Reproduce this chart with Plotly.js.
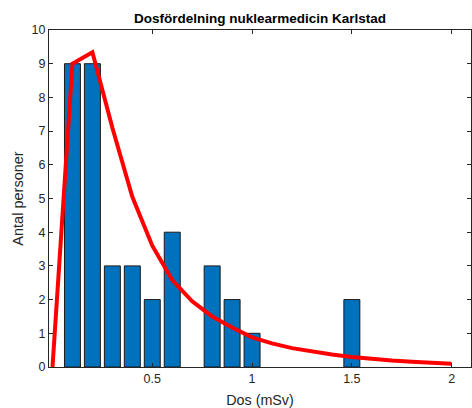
<!DOCTYPE html>
<html>
<head>
<meta charset="utf-8">
<script src="https://cdn.plot.ly/plotly-3.0.1.min.js"></script>
<style>html,body{margin:0;padding:0;background:#fff;}#chart{width:472px;height:408px;}</style>
</head>
<body>
<div id="chart"></div>
<script>
// Histogram bars
const barDose = [0.1, 0.2, 0.3, 0.4, 0.5, 0.6, 0.8, 0.9, 1.0, 1.5];
const barCount = [9, 9, 3, 3, 2, 4, 3, 2, 1, 2];
// Fitted curve
const fitDose = [0, 0.1, 0.2, 0.3, 0.4, 0.5, 0.6, 0.7, 0.8, 0.9, 1.0, 1.1, 1.2, 1.3, 1.4, 1.5, 1.6, 1.7, 1.8, 1.9, 2.0];
const fitCount = [0, 9.0, 9.34, 7.1, 5.05, 3.6, 2.58, 1.95, 1.5, 1.17, 0.88, 0.7, 0.56, 0.46, 0.37, 0.30, 0.24, 0.19, 0.155, 0.125, 0.1];
const xTicks = [0.5, 1, 1.5, 2];
const yTicks = [0, 1, 2, 3, 4, 5, 6, 7, 8, 9, 10];

const font = 'Liberation Sans, Arial, sans-serif';
const axCol = '#262626';

const traces = [
  {
    type: 'bar', x: barDose, y: barCount, width: 0.08,
    marker: {color: '#0072BD', line: {color: '#1a1a1a', width: 1}},
    hoverinfo: 'none'
  },
  {
    type: 'scatter', mode: 'lines', x: fitDose, y: fitCount,
    line: {color: '#FF0000', width: 4},
    hoverinfo: 'none'
  }
];

const layout = {
  width: 472, height: 408,
  margin: {l: 49, r: 1, t: 30, b: 41, pad: 0},
  paper_bgcolor: '#ffffff', plot_bgcolor: '#ffffff',
  showlegend: false,
  font: {family: font, size: 12, color: axCol},
  title: {
    text: '<b>Dosfördelning nuklearmedicin Karlstad</b>',
    font: {family: font, size: 13.5, color: '#000000'},
    xref: 'paper', x: 0.5, xanchor: 'center',
    yref: 'container', y: 1 - 18 / 408, yanchor: 'middle'
  },
  xaxis: {
    range: [-0.0175, 2.097], tickvals: xTicks, ticktext: xTicks.map(String),
    ticks: 'inside', ticklen: 4, tickcolor: axCol, tickwidth: 1,
    showline: true, linecolor: axCol, linewidth: 1, mirror: 'ticks',
    showgrid: false, zeroline: false,
    tickfont: {family: font, size: 12.5, color: axCol},
    title: {text: 'Dos (mSv)', font: {family: font, size: 14.3, color: axCol}, standoff: 9}
  },
  yaxis: {
    range: [0, 10], tickvals: yTicks,
    ticks: 'inside', ticklen: 4, tickcolor: axCol, tickwidth: 1,
    showline: true, linecolor: axCol, linewidth: 1, mirror: 'ticks',
    showgrid: false, zeroline: false,
    tickfont: {family: font, size: 12.5, color: axCol},
    title: {text: 'Antal personer', font: {family: font, size: 14.5, color: axCol}, standoff: 4}
  },
  bargap: 0
};

Plotly.newPlot('chart', traces, layout, {staticPlot: true, displayModeBar: false});
</script>
</body>
</html>
